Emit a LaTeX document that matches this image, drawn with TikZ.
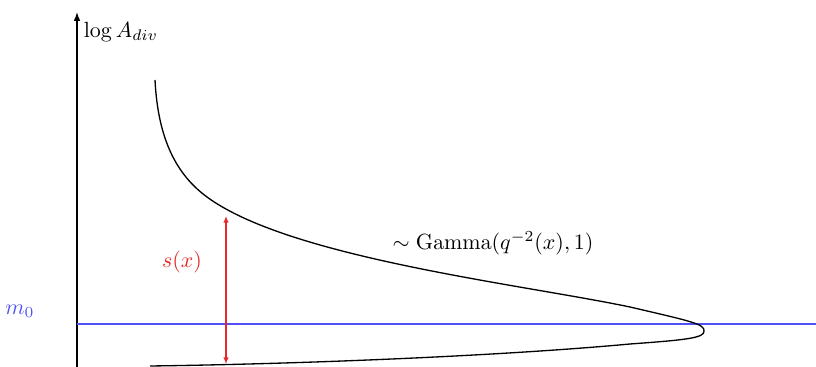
\documentclass[tikz,border=0pt]{standalone}
\usepackage{amsmath}
\usepackage{xcolor}
\usetikzlibrary{arrows.meta,positioning}
\definecolor{level}{RGB}{80,80,245}
\definecolor{spread}{RGB}{230,40,40}

\begin{document}
\begin{tikzpicture}[x=0.016cm, y=-0.016cm, semithick]
  \useasboundingbox (0,0) rectangle (816,367);
  % axis
  \coordinate (orig) at (77,367);
  \coordinate (ytop) at (77,12);
  \draw[-{Latex[length=4pt,width=3pt]}] (orig) -- (ytop);
  \node[anchor=west, inner sep=1pt] (ylab) at (81,32) {$\log A_{div}$};
  % level m_0
  \coordinate (lvlL) at (77,324);
  \coordinate (lvlR) at (816,324);
  \draw[level] (lvlL) -- (lvlR);
  \node[text=level] (mzero) at (20,311) {$m_0$};
  % density curve
  \coordinate (cstart) at (155,80);
  \coordinate (cknee) at (207,197);
  \coordinate (cup) at (630,307);
  \coordinate (tip) at (704,331);
  \coordinate (clow) at (630,344);
  \coordinate (cend) at (150,366);
  \draw (cstart) .. controls (158,140) and (177,175) .. (cknee)
    .. controls (290,258) and (520,284) .. (cup)
    .. controls (690,321) and (705,324) .. (tip)
    .. controls (705,338) and (685,340) .. (clow)
    .. controls (500,356) and (300,364) .. (cend);
  \node (gamlab) at (493,243) {$\sim\mathrm{Gamma}(q^{-2}(x),1)$};
  % spread s(x)
  \coordinate (stop) at (226,216);
  \coordinate (sbot) at (226,364);
  \draw[{Latex[length=3pt,width=2.5pt]}-{Latex[length=3pt,width=2.5pt]}, spread] (stop) -- (sbot);
  \node[text=spread] (slab) at (182,262) {$s(x)$};
\end{tikzpicture}
\end{document}
